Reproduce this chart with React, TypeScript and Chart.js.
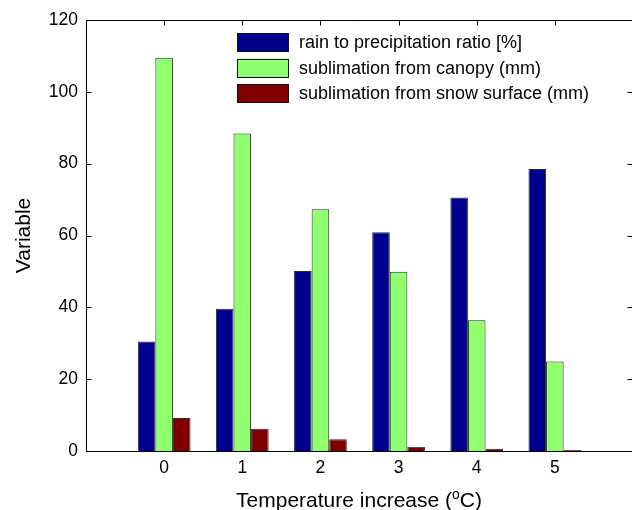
import React, { useEffect, useRef } from "react";
import { Chart, registerables } from "chart.js";

Chart.register(...registerables);

const categories = [0, 1, 2, 3, 4, 5];
const rainRatio = [30.5, 39.6, 50.1, 60.9, 70.6, 78.5];
const canopySublimation = [109.5, 88.4, 67.3, 49.9, 36.4, 24.9];
const snowSublimation = [9.2, 6.2, 3.3, 1.2, 0.6, 0.3];
const seriesLabels = [
  "rain to precipitation ratio [%]",
  "sublimation from canopy (mm)",
  "sublimation from snow surface (mm)",
];
const seriesColors = ["rgb(0,0,143)", "rgb(143,255,111)", "rgb(128,0,0)"];
const yMin = 0;
const yMax = 120;
const yStep = 20;
const xMin = -1;
const xMax = 6;
const yTitle = "Variable";
const xTitleMain = "Temperature increase (";
const xTitleSup = "o";
const xTitleEnd = "C)";

const FONT = "'Liberation Sans', Arial, Helvetica, sans-serif";

const framePlugin = {
  id: "framePlugin",
  beforeDatasetsDraw(chart: any) {
    const { ctx, chartArea, scales } = chart;
    const xs = scales.x;
    ctx.save();
    ctx.strokeStyle = "#000";
    ctx.lineWidth = 1;
    ctx.beginPath();
    categories.forEach((c) => {
      const px = Math.round(xs.getPixelForValue(c)) + 0.5;
      ctx.moveTo(px, chartArea.bottom);
      ctx.lineTo(px, chartArea.bottom - 5);
    });
    ctx.stroke();
    ctx.restore();
  },
  afterDatasetsDraw(chart: any) {
    const { ctx, chartArea, scales } = chart;
    const xs = scales.x;
    const ys = scales.y;
    const L = Math.round(chartArea.left) + 0.5;
    const R = Math.round(chartArea.right) - 0.5;
    const T = Math.round(chartArea.top) + 0.5;
    const B = Math.round(chartArea.bottom) + 0.5;
    ctx.save();
    ctx.strokeStyle = "#000";
    ctx.lineWidth = 1;
    ctx.beginPath();
    ctx.moveTo(L, T);
    ctx.lineTo(R, T);
    ctx.moveTo(L, T);
    ctx.lineTo(L, B);
    ctx.moveTo(L - 0.5, B);
    ctx.lineTo(R, B);
    // top ticks
    categories.forEach((c) => {
      const px = Math.round(xs.getPixelForValue(c)) + 0.5;
      ctx.moveTo(px, T);
      ctx.lineTo(px, T + 5);
    });
    // left / right ticks
    for (let v = yMin; v <= yMax; v += yStep) {
      const py = Math.round(ys.getPixelForValue(v)) + 0.5;
      ctx.moveTo(L, py);
      ctx.lineTo(L + 5, py);
      ctx.moveTo(R, py);
      ctx.lineTo(R - 5, py);
    }
    ctx.stroke();

    // legend
    const boxX = 237;
    const boxW = 52;
    const boxH = 19;
    ctx.font = `18px ${FONT}`;
    ctx.textBaseline = "middle";
    ctx.textAlign = "left";
    seriesLabels.forEach((lab, i) => {
      const top = 33 + i * 25.5;
      ctx.fillStyle = seriesColors[i];
      ctx.fillRect(boxX, top, boxW, boxH);
      ctx.strokeStyle = "#111";
      ctx.strokeRect(boxX + 0.5, Math.round(top) + 0.5, boxW - 1, boxH - 1);
      ctx.fillStyle = "#000";
      ctx.fillText(lab, 299, top + boxH / 2 + 1);
    });

    // y title
    ctx.save();
    ctx.translate(30, (chartArea.top + chartArea.bottom) / 2);
    ctx.rotate(-Math.PI / 2);
    ctx.font = `21px ${FONT}`;
    ctx.textAlign = "center";
    ctx.textBaseline = "alphabetic";
    ctx.fillStyle = "#000";
    ctx.fillText(yTitle, 0, 0);
    ctx.restore();

    // x title with superscript
    const mainFont = `21px ${FONT}`;
    const supFont = `14px ${FONT}`;
    ctx.font = mainFont;
    const w1 = ctx.measureText(xTitleMain).width;
    const w3 = ctx.measureText(xTitleEnd).width;
    ctx.font = supFont;
    const w2 = ctx.measureText(xTitleSup).width;
    const total = w1 + w2 + w3;
    const cx = 359;
    let x = cx - total / 2;
    const base = 507;
    ctx.textAlign = "left";
    ctx.textBaseline = "alphabetic";
    ctx.fillStyle = "#000";
    ctx.font = mainFont;
    ctx.fillText(xTitleMain, x, base);
    x += w1;
    ctx.font = supFont;
    ctx.fillText(xTitleSup, x, base - 8);
    x += w2;
    ctx.font = mainFont;
    ctx.fillText(xTitleEnd, x, base);
    ctx.restore();
  },
};

export default function App() {
  const ref = useRef<HTMLCanvasElement | null>(null);
  useEffect(() => {
    if (!ref.current) return;
    const mk = (vals: number[]) => vals.map((v, i) => ({ x: categories[i], y: v }));
    const chart = new Chart(ref.current, {
      type: "bar",
      data: {
        datasets: [rainRatio, canopySublimation, snowSublimation].map((vals, i) => ({
          label: seriesLabels[i],
          data: mk(vals),
          backgroundColor: seriesColors[i],
          borderColor: "rgba(20,20,20,0.9)",
          borderWidth: 1,
          categoryPercentage: 0.675,
          barPercentage: 1,
        })),
      },
      options: {
        responsive: false,
        maintainAspectRatio: false,
        animation: false,
        layout: { padding: { top: 20, right: 7, left: 0, bottom: 0 } },
        plugins: {
          legend: { display: false },
          tooltip: { enabled: false },
        },
        scales: {
          x: {
            type: "linear",
            min: xMin,
            max: xMax,
            offset: false,
            grid: { display: false, drawTicks: false, offset: false },
            border: { display: false },
            ticks: {
              stepSize: 1,
              padding: 7,
              color: "#000",
              font: { family: FONT, size: 17.5 },
              callback: (v: any) => (v < 0 || v > 5 ? "" : String(v)),
            },
            afterFit: (s: any) => {
              s.height = 59;
            },
          },
          y: {
            min: yMin,
            max: yMax,
            grid: { display: false, drawTicks: false },
            border: { display: false },
            ticks: {
              stepSize: yStep,
              padding: 8,
              color: "#000",
              font: { family: FONT, size: 17.5 },
            },
            afterFit: (s: any) => {
              s.width = 86;
            },
          },
        },
      },
      plugins: [framePlugin],
    } as any);
    return () => chart.destroy();
  }, []);
  return (
    <div
      style={{
        position: "fixed",
        left: 0,
        top: 0,
        width: 632,
        height: 510,
        overflow: "hidden",
        background: "#fff",
      }}
    >
      <canvas ref={ref} width={640} height={510} style={{ display: "block" }} />
    </div>
  );
}
